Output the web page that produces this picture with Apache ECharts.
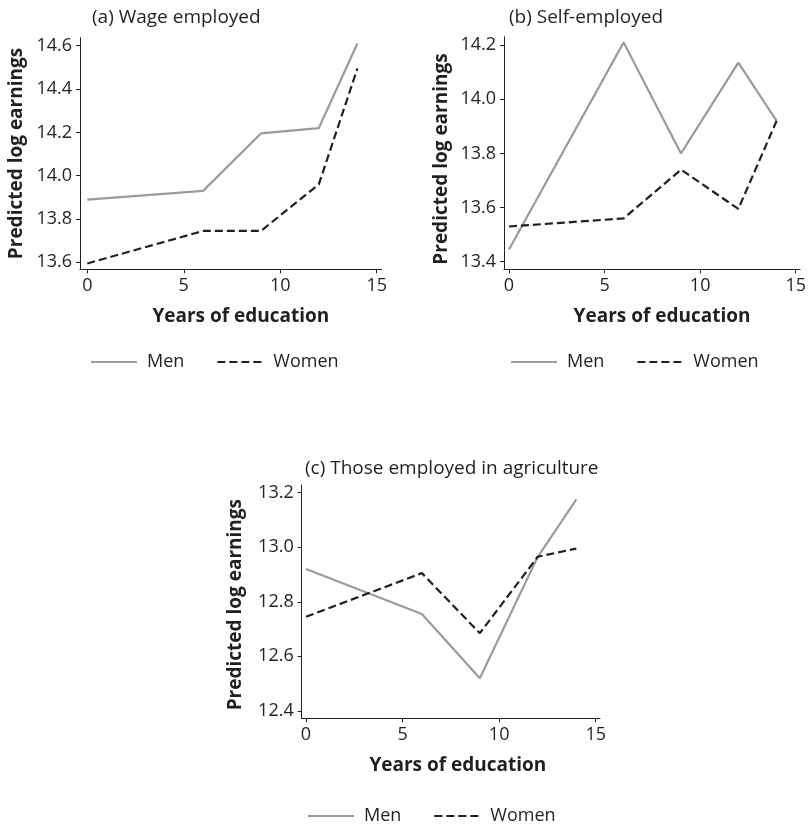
<!DOCTYPE html>
<html>
<head>
<meta charset="utf-8">
<script src="https://cdn.jsdelivr.net/npm/echarts@6/dist/echarts.min.js"></script>
<style>
  html, body { margin: 0; padding: 0; background: #ffffff; }
  #chart { width: 809px; height: 827px; }
</style>
</head>
<body>
<div id="chart"></div>
<script>
// Years of schooling at which predictions are reported
const years = [0, 6, 9, 12, 14];

// (a) Wage employed
const wageMen   = [13.89, 13.93, 14.195, 14.22, 14.61];
const wageWomen = [13.595, 13.745, 13.745, 13.96, 14.495];

// (b) Self-employed
const selfMen   = [13.445, 14.21, 13.80, 14.135, 13.92];
const selfWomen = [13.53, 13.56, 13.74, 13.595, 13.92];

// (c) Those employed in agriculture
const agriMen   = [12.92, 12.755, 12.52, 12.965, 13.175];
const agriWomen = [12.745, 12.905, 12.685, 12.965, 12.995];

// Tick labels
const xTicks = [0, 5, 10, 15];
const yTicksWage = [13.6, 13.8, 14.0, 14.2, 14.4, 14.6];
const yTicksSelf = [13.4, 13.6, 13.8, 14.0, 14.2];
const yTicksAgri = [12.4, 12.6, 12.8, 13.0, 13.2];

const panelTitles = ['(a) Wage employed', '(b) Self-employed', '(c) Those employed in agriculture'];
const seriesNames = ['Men', 'Women'];
const xName = 'Years of education';
const yName = 'Predicted log earnings';

const FONT = 'Open Sans';
const TEXT = '#231f20';
const AXIS = '#231f20';

function pairs(xs, ys) { return xs.map((x, i) => [x, ys[i]]); }

function makeX(gridIndex, min, max, shift) {
  return {
    type: 'value', gridIndex, min, max,
    splitLine: { show: false },
    axisLine: { show: true, onZero: false, lineStyle: { color: AXIS, width: 1 } },
    axisTick: { show: true, length: 4, customValues: xTicks, lineStyle: { color: AXIS } },
    axisLabel: { customValues: xTicks, fontSize: 18, color: TEXT, fontFamily: FONT, margin: 8 },
    name: xName, nameLocation: 'middle', nameGap: 38,
    nameTextStyle: { fontSize: 19, fontWeight: 'bold', color: TEXT, fontFamily: FONT, padding: [0, 0, 0, shift] }
  };
}

function makeY(gridIndex, min, max, ticks, gap, shift) {
  return {
    type: 'value', gridIndex, min, max,
    splitLine: { show: false },
    axisLine: { show: true, onZero: false, lineStyle: { color: AXIS, width: 1 } },
    axisTick: { show: true, length: 4, customValues: ticks, lineStyle: { color: AXIS } },
    axisLabel: { customValues: ticks, fontSize: 18, color: TEXT, fontFamily: FONT, margin: 8,
                 formatter: v => v.toFixed(1) },
    name: yName, nameLocation: 'middle', nameGap: gap, nameRotate: 90,
    nameTextStyle: { fontSize: 19, fontWeight: 'bold', color: TEXT, fontFamily: FONT, padding: [0, shift, 0, 0] }
  };
}

const menStyle = { color: '#9b9b9b', width: 2.2, type: 'solid' };
const womenStyle = { color: '#231f20', width: 2.2, type: [8, 4] };

function line(name, xi, data, style) {
  return {
    name, type: 'line', xAxisIndex: xi, yAxisIndex: xi,
    data, symbol: 'none', smooth: false,
    lineStyle: style, itemStyle: { color: style.color },
    emphasis: { disabled: true }, animation: false
  };
}

// Legend keys show only the line sample (the marker dot is hidden)
function legend(left, top) {
  return {
    data: seriesNames, left, top, orient: 'horizontal', padding: 0,
    itemWidth: 46, itemHeight: 14, itemGap: 32,
    itemStyle: { opacity: 0 },
    textStyle: { fontSize: 18, color: TEXT, fontFamily: FONT, padding: [0, 0, 0, 5] },
    selectedMode: false
  };
}

const option = {
  backgroundColor: '#ffffff',
  animation: false,
  textStyle: { fontFamily: FONT },
  title: [
    { text: panelTitles[0], left: 87, top: 3, textStyle: { fontSize: 19, fontWeight: 'normal', color: TEXT, fontFamily: FONT } },
    { text: panelTitles[1], left: 504, top: 3, textStyle: { fontSize: 19, fontWeight: 'normal', color: TEXT, fontFamily: FONT } },
    { text: panelTitles[2], left: 300, top: 454, textStyle: { fontSize: 19, fontWeight: 'normal', color: TEXT, fontFamily: FONT } }
  ],
  legend: [legend(90, 353), legend(510, 353), legend(307, 807)],
  grid: [
    { left: 80, top: 37.7, width: 301.7, height: 231.6 },
    { left: 504, top: 36.7, width: 297.7, height: 232.6 },
    { left: 301.7, top: 485, width: 298.3, height: 233.3 }
  ],
  xAxis: [
    makeX(0, -0.378, 15.259, 20),
    makeX(1, -0.26, 15.229, 20),
    makeX(2, -0.223, 15.223, 14)
  ],
  yAxis: [
    makeY(0, 13.568, 14.637, yTicksWage, 54, 0),
    makeY(1, 13.372, 14.231, yTicksSelf, 53, 12),
    makeY(2, 12.373, 13.228, yTicksAgri, 57, 6)
  ],
  series: [
    line('Men', 0, pairs(years, wageMen), menStyle),
    line('Women', 0, pairs(years, wageWomen), womenStyle),
    line('Men', 1, pairs(years, selfMen), menStyle),
    line('Women', 1, pairs(years, selfWomen), womenStyle),
    line('Men', 2, pairs(years, agriMen), menStyle),
    line('Women', 2, pairs(years, agriWomen), womenStyle)
  ]
};

const chart = echarts.init(document.getElementById('chart'), null, { renderer: 'canvas' });
chart.setOption(option);
</script>
</body>
</html>
